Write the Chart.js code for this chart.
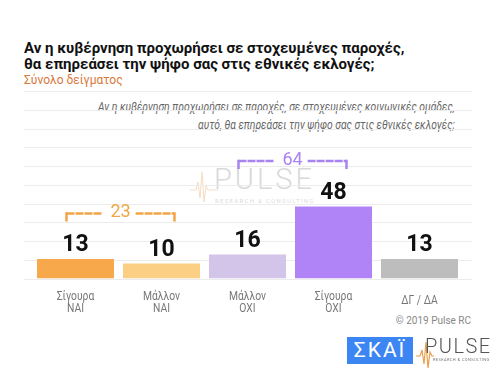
<!DOCTYPE html>
<html><head><meta charset="utf-8">
<script src="https://cdn.jsdelivr.net/npm/chart.js@4/dist/chart.umd.min.js"></script>
<style>
html,body{margin:0;padding:0;background:#fff;}
#wrap{position:relative;width:500px;height:372px;overflow:hidden;font-family:Roboto,"Noto Sans",sans-serif;}
.t{position:absolute;white-space:nowrap;}
canvas{position:absolute;left:0;top:0;}
</style></head><body>
<div id="wrap">
  <!-- watermark -->
  <div class="t" style="left:214px;top:165px;font-size:29px;line-height:29px;font-weight:300;color:#d9d9d9;letter-spacing:3px;">PULSE</div>
  <div class="t" style="left:215px;top:197px;font-size:6px;line-height:7px;color:#dcdcdc;letter-spacing:1.3px;">RESEARCH &amp; CONSULTING</div>
  <svg style="position:absolute;left:190px;top:168px" width="28" height="36"><polyline points="0,22 6,22 8,14 10,30 12,4 14,34 16,18 18,22 28,22" fill="none" stroke="#f6dcc4" stroke-width="1"/></svg>

  <div class="t" style="left:24px;top:40px;font-size:15px;line-height:16px;font-weight:700;color:#111;">Αν η κυβέρνηση προχωρήσει σε στοχευμένες παροχές,<br>θα επηρεάσει την ψήφο σας στις εθνικές εκλογές;</div>
  <div class="t" style="left:24px;top:73px;font-size:12px;line-height:14px;color:#D9773A;">Σύνολο δείγματος</div>
  <div class="t" id="note" style="right:45px;top:98px;font-size:12px;line-height:18px;font-style:italic;color:#666;text-align:right;transform:scaleX(0.86);transform-origin:right center;">Αν η κυβέρνηση προχωρήσει σε παροχές, σε στοχευμένες κοινωνικές ομάδες,<br>αυτό, θα επηρεάσει την ψήφο σας στις εθνικές εκλογές;</div>
  <div class="t" style="right:29px;top:315px;font-size:10px;line-height:12px;color:#888;">© 2019 Pulse RC</div>

  <canvas id="c" width="500" height="372"></canvas>

  <!-- logos -->
  <div class="t" style="left:347px;top:337px;width:66px;height:27px;background:#3C86F4;color:#fff;font-size:21px;line-height:27px;text-align:center;letter-spacing:2px;">ΣΚΑΪ</div>
  <svg style="position:absolute;left:416px;top:340px" width="18" height="30"><polyline points="0,16 4,16 6,10 8,24 10,2 12,28 14,12 16,16 18,16" fill="none" stroke="#E9A04E" stroke-width="1.2"/></svg>
  <div class="t" style="left:425px;top:336px;font-size:20px;line-height:20px;font-weight:300;color:#555;letter-spacing:1.5px;">PULSE</div>
  <div class="t" style="left:433px;top:357px;font-size:4px;line-height:5px;color:#777;letter-spacing:0.4px;">RESEARCH &amp; CONSULTING</div>
</div>
<script>
const categories = [['Σίγουρα','ΝΑΙ'],['Μάλλον','ΝΑΙ'],['Μάλλον','ΟΧΙ'],['Σίγουρα','ΟΧΙ'],['ΔΓ / ΔΑ']];
const values = [13, 10, 16, 48, 13];
const barColors = ['#F7A84A','#FBD085','#D3C4EA','#B083F7','#BDBDBD'];
const groupTotals = ['23', '64'];
const groupFrom = [0, 2];
const groupTo = [1, 3];
const groupColors = ['#F2A548','#A983F0'];
const yMax = 125;
const yStep = 12.5;

const decor = {
  id: 'decor',
  beforeDatasetsDraw(chart) {
    const ctx = chart.ctx, y = chart.scales.y;
    ctx.save();
    ctx.strokeStyle = '#ececec';
    ctx.lineWidth = 1;
    let ticks = (y.ticks && y.ticks.length) ? y.ticks.map(t => t.value) : [];
    if (!ticks.length) { for (let v = y.min; v <= y.max + 1e-6; v += yStep) ticks.push(v); }
    ticks.forEach(v => {
      const py = Math.round(y.getPixelForValue(v)) + 0.5;
      ctx.beginPath(); ctx.moveTo(24, py); ctx.lineTo(472, py); ctx.stroke();
    });
    ctx.restore();
  },
  afterDraw(chart) {
    const ctx = chart.ctx, x = chart.scales.x, y = chart.scales.y;
    const meta = chart.getDatasetMeta(0);
    ctx.save();
    // value labels
    ctx.fillStyle = '#111';
    ctx.font = 'bold 23px Roboto';
    ctx.textAlign = 'center';
    ctx.textBaseline = 'alphabetic';
    meta.data.forEach((bar, i) => {
      ctx.fillText(String(values[i]), bar.x, bar.y - 8);
    });
    // category labels
    ctx.fillStyle = '#777';
    ctx.textBaseline = 'middle';
    const base = y.getPixelForValue(0);
    categories.forEach((lines, i) => {
      const cx = x.getPixelForValue(i);
      ctx.save();
      ctx.translate(cx, 0);
      ctx.scale(0.86, 1);
      ctx.font = '12px Roboto';
      if (lines.length === 1) {
        ctx.fillText(lines[0], 0, base + 22.5);
      } else {
        ctx.fillText(lines[0], 0, base + 18.5);
        ctx.fillText(lines[1], 0, base + 30);
      }
      ctx.restore();
    });
    // brackets
    groupTotals.forEach((lab, g) => {
      const a = groupFrom[g], b = groupTo[g];
      const top = Math.min(y.getPixelForValue(values[a]), y.getPixelForValue(values[b]));
      const ly = top - 45.5;
      const x1 = x.getPixelForValue(a) - 9, x2 = x.getPixelForValue(b) + 13;
      const mid = (x1 + x2) / 2;
      ctx.font = '18px Roboto';
      const tw = ctx.measureText(lab).width;
      ctx.strokeStyle = groupColors[g];
      ctx.fillStyle = groupColors[g];
      ctx.lineWidth = 2.5;
      // vertical ends (solid)
      ctx.beginPath();
      ctx.moveTo(x1, ly - 1.25); ctx.lineTo(x1, ly + 8);
      ctx.moveTo(x2, ly - 1.25); ctx.lineTo(x2, ly + 8);
      ctx.stroke();
      // dashed horizontals
      ctx.setLineDash([8, 1]);
      ctx.beginPath();
      ctx.moveTo(x1, ly); ctx.lineTo(mid - tw / 2 - 8, ly);
      ctx.moveTo(mid + tw / 2 + 5, ly); ctx.lineTo(x2, ly);
      ctx.stroke();
      ctx.setLineDash([]);
      ctx.textAlign = 'center';
      ctx.textBaseline = 'middle';
      ctx.fillText(lab, mid, ly - 1);
    });
    ctx.restore();
  }
};

new Chart(document.getElementById('c'), {
  type: 'bar',
  data: {
    labels: categories,
    datasets: [{ data: values, backgroundColor: barColors, borderWidth: 0, barPercentage: 0.895, categoryPercentage: 1 }]
  },
  options: {
    responsive: false,
    animation: false,
    events: [],
    layout: { padding: { left: 32.5, right: 37.5, top: 91, bottom: 93.5 } },
    plugins: { legend: { display: false }, tooltip: { enabled: false } },
    scales: {
      x: { display: false, offset: true },
      y: { display: false, min: 0, max: yMax, ticks: { stepSize: yStep } }
    }
  },
  plugins: [decor]
});
</script>
</body></html>
